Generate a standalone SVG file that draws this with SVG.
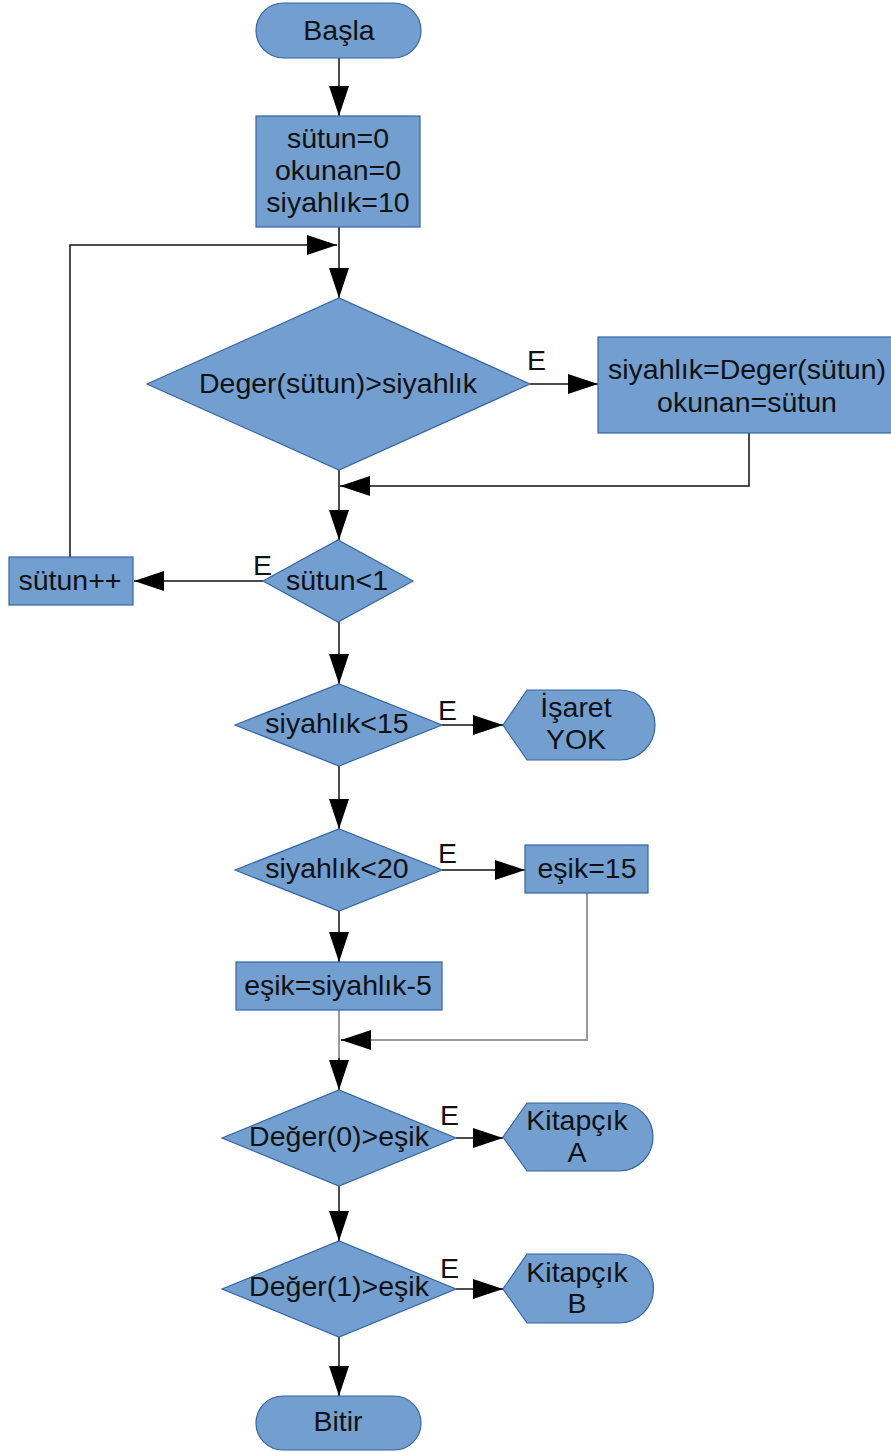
<svg xmlns="http://www.w3.org/2000/svg" width="891" height="1452" viewBox="0 0 891 1452">
<defs>
<style>
.s{fill:#729fcf;stroke:#3465a4;stroke-width:1.2}
.t{font-family:"Liberation Sans",Arial,sans-serif;font-size:28.5px;fill:#111;text-anchor:middle}
.e{font-family:"Liberation Sans",Arial,sans-serif;font-size:28.5px;fill:#111}
.c{fill:none;stroke:#111;stroke-width:1.5}
.g{fill:none;stroke:#999;stroke-width:2}
</style>
<marker id="ah" markerUnits="userSpaceOnUse" markerWidth="31" markerHeight="21" refX="30" refY="10" orient="auto">
<path d="M0,0 L30,10 L0,20 z" fill="#000"/>
</marker>
</defs>
<rect width="891" height="1452" fill="#fff"/>
<g id="connectors">
<path class="c" d="M339,58 V116" marker-end="url(#ah)"/>
<path class="c" d="M339,227 V298" marker-end="url(#ah)"/>
<path class="c" d="M70,557 V245 H337" marker-end="url(#ah)"/>
<path class="c" d="M530,384 H598" marker-end="url(#ah)"/>
<path class="c" d="M749,433 V486 H340" marker-end="url(#ah)"/>
<path class="c" d="M339,470 V540" marker-end="url(#ah)"/>
<path class="c" d="M263,581 H134" marker-end="url(#ah)"/>
<path class="c" d="M339,622 V684" marker-end="url(#ah)"/>
<path class="c" d="M442,725 H503" marker-end="url(#ah)"/>
<path class="c" d="M339,766 V829" marker-end="url(#ah)"/>
<path class="c" d="M442,870 H525" marker-end="url(#ah)"/>
<path class="c" d="M339,911 V962" marker-end="url(#ah)"/>
<path class="g" d="M587,893 V1040 H370"/>
<path class="c" d="M370,1040 H341" marker-end="url(#ah)"/>
<path class="g" d="M339,1010 V1060"/>
<path class="c" d="M339,1058 V1090" marker-end="url(#ah)"/>
<path class="c" d="M456,1138 H503" marker-end="url(#ah)"/>
<path class="c" d="M339,1186 V1241" marker-end="url(#ah)"/>
<path class="c" d="M456,1289 H503" marker-end="url(#ah)"/>
<path class="c" d="M339,1337 V1396" marker-end="url(#ah)"/>
<text class="e" x="527" y="370">E</text>
<text class="e" x="253" y="575">E</text>
<text class="e" x="438" y="720">E</text>
<text class="e" x="438" y="863">E</text>
<text class="e" x="440" y="1125">E</text>
<text class="e" x="440" y="1278">E</text>
</g>
<g id="basla">
<rect class="s" x="256" y="3" width="165" height="55" rx="27.5"/>
<text class="t" x="339" y="40">Başla</text>
</g>
<g id="init">
<rect class="s" x="256" y="116" width="164" height="111"/>
<text class="t" x="338" y="148">sütun=0</text>
<text class="t" x="338" y="180">okunan=0</text>
<text class="t" x="338" y="212">siyahlık=10</text>
</g>
<g id="d1">
<polygon class="s" points="147,384 339,298 530,384 339,470"/>
<text class="t" x="338" y="393">Deger(sütun)&gt;siyahlık</text>
</g>
<g id="assign">
<rect class="s" x="598" y="337" width="300" height="96"/>
<text class="t" x="747" y="379">siyahlık=Deger(sütun)</text>
<text class="t" x="747" y="412">okunan=sütun</text>
</g>
<g id="d2">
<polygon class="s" points="263,581 338,540 413,581 338,622"/>
<text class="t" x="337" y="590">sütun&lt;1</text>
</g>
<g id="inc">
<rect class="s" x="9" y="557" width="124" height="48"/>
<text class="t" x="70" y="590">sütun++</text>
</g>
<g id="d3">
<polygon class="s" points="235,725 339,684 442,725 339,766"/>
<text class="t" x="337" y="733">siyahlık&lt;15</text>
</g>
<g id="yok">
<path class="s" d="M503,725 L527,690 H620 A35,35 0 0 1 620,760 H527 Z"/>
<text class="t" x="576" y="717">İşaret</text>
<text class="t" x="576" y="749">YOK</text>
</g>
<g id="d4">
<polygon class="s" points="235,870 339,829 442,870 339,911"/>
<text class="t" x="337" y="878">siyahlık&lt;20</text>
</g>
<g id="esik15">
<rect class="s" x="525" y="845" width="123" height="48"/>
<text class="t" x="587" y="878">eşik=15</text>
</g>
<g id="esik5">
<rect class="s" x="236" y="962" width="206" height="48"/>
<text class="t" x="338" y="995">eşik=siyahlık-5</text>
</g>
<g id="d5">
<polygon class="s" points="222,1138 339,1090 456,1138 339,1186"/>
<text class="t" x="339" y="1146">Değer(0)&gt;eşik</text>
</g>
<g id="kitA">
<path class="s" d="M503,1137 L527,1103 H619 A34,34 0 0 1 619,1171 H527 Z"/>
<text class="t" x="577" y="1130">Kitapçık</text>
<text class="t" x="577" y="1162">A</text>
</g>
<g id="d6">
<polygon class="s" points="222,1289 339,1241 456,1289 339,1337"/>
<text class="t" x="339" y="1296">Değer(1)&gt;eşik</text>
</g>
<g id="kitB">
<path class="s" d="M503,1289 L527,1254 H619 A34.5,34.5 0 0 1 619,1323 H527 Z"/>
<text class="t" x="577" y="1282">Kitapçık</text>
<text class="t" x="577" y="1313">B</text>
</g>
<g id="bitir">
<rect class="s" x="256" y="1396" width="165" height="54" rx="27"/>
<text class="t" x="338" y="1431">Bitir</text>
</g>
</svg>
